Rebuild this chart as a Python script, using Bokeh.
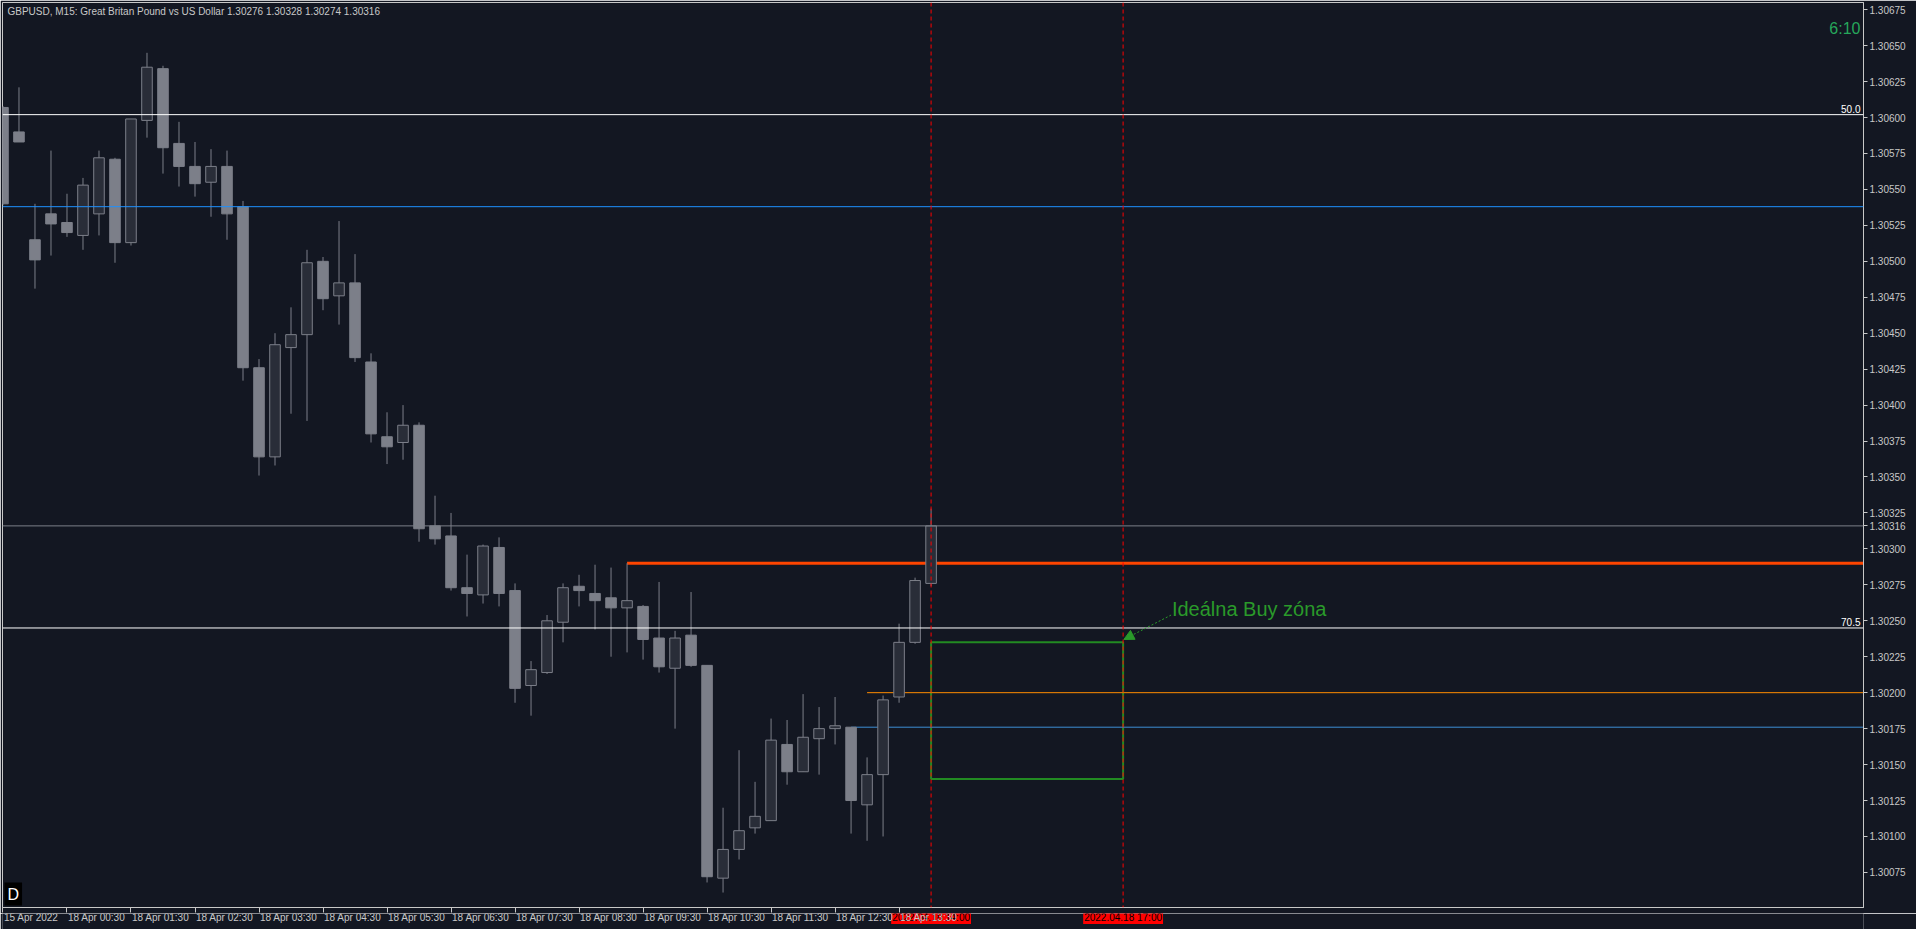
from bokeh.plotting import figure
from bokeh.layouts import column
from bokeh.models import (Range1d, FixedTicker, PrintfTickFormatter, Label, Arrow,
                          NormalHead, Span, ColumnDataSource)
from bokeh.embed import file_html
from bokeh.resources import INLINE

# ---------------- data ----------------
chart_title = "GBPUSD, M15:  Great Britan Pound vs US Dollar  1.30276 1.30328 1.30274 1.30316"

opens = [1.30607, 1.30590, 1.30515, 1.30533, 1.30527, 1.30518, 1.30533, 1.30571, 1.30513, 1.30598,
         1.30634, 1.30582, 1.30566, 1.30555, 1.30566, 1.30538, 1.30426, 1.30364, 1.30440, 1.30449,
         1.30500, 1.30476, 1.30485, 1.30430, 1.30378, 1.30374, 1.30386, 1.30316, 1.30309, 1.30273,
         1.30268, 1.30301, 1.30271, 1.30205, 1.30214, 1.30249, 1.30274, 1.30269, 1.30266, 1.30259,
         1.30260, 1.30238, 1.30217, 1.30240, 1.30219, 1.30071, 1.30091, 1.30106, 1.30111, 1.30164,
         1.30145, 1.30168, 1.30175, 1.30176, 1.30122, 1.30143, 1.30197, 1.30235, 1.30276]
highs = [1.30608, 1.30621, 1.30540, 1.30577, 1.30547, 1.30558, 1.30577, 1.30572, 1.30599, 1.30645,
         1.30636, 1.30597, 1.30583, 1.30578, 1.30577, 1.30542, 1.30432, 1.30450, 1.30468, 1.30508,
         1.30503, 1.30528, 1.30505, 1.30436, 1.30395, 1.30400, 1.30388, 1.30337, 1.30325, 1.30296,
         1.30303, 1.30308, 1.30276, 1.30222, 1.30254, 1.30276, 1.30282, 1.30289, 1.30287, 1.30290,
         1.30261, 1.30277, 1.30243, 1.30270, 1.30219, 1.30120, 1.30160, 1.30138, 1.30182, 1.30181,
         1.30199, 1.30190, 1.30197, 1.30176, 1.30155, 1.30198, 1.30248, 1.30280, 1.30328]
lows = [1.30539, 1.30583, 1.30481, 1.30504, 1.30517, 1.30508, 1.30518, 1.30499, 1.30511, 1.30586,
        1.30561, 1.30552, 1.30545, 1.30531, 1.30515, 1.30417, 1.30351, 1.30358, 1.30394, 1.30389,
        1.30466, 1.30456, 1.30430, 1.30374, 1.30359, 1.30362, 1.30305, 1.30303, 1.30271, 1.30253,
        1.30262, 1.30260, 1.30193, 1.30184, 1.30213, 1.30235, 1.30260, 1.30244, 1.30225, 1.30228,
        1.30223, 1.30214, 1.30175, 1.30218, 1.30068, 1.30061, 1.30084, 1.30102, 1.30111, 1.30136,
        1.30145, 1.30143, 1.30164, 1.30102, 1.30097, 1.30100, 1.30193, 1.30234, 1.30274]
closes = [1.30540, 1.30583, 1.30501, 1.30526, 1.30520, 1.30553, 1.30572, 1.30513, 1.30599, 1.30635,
          1.30579, 1.30566, 1.30554, 1.30566, 1.30533, 1.30426, 1.30364, 1.30442, 1.30449, 1.30499,
          1.30474, 1.30485, 1.30433, 1.30380, 1.30371, 1.30386, 1.30314, 1.30307, 1.30273, 1.30269,
          1.30302, 1.30269, 1.30203, 1.30216, 1.30250, 1.30273, 1.30271, 1.30264, 1.30259, 1.30264,
          1.30237, 1.30218, 1.30238, 1.30219, 1.30072, 1.30091, 1.30104, 1.30114, 1.30167, 1.30145,
          1.30169, 1.30175, 1.30177, 1.30125, 1.30143, 1.30195, 1.30235, 1.30278, 1.30316]

time_tick_bars = [0, 4, 8, 12, 16, 20, 24, 28, 32, 36, 40, 44, 48, 52, 56]
time_tick_labels = ["15 Apr 2022", "18 Apr 00:30", "18 Apr 01:30", "18 Apr 02:30", "18 Apr 03:30",
                    "18 Apr 04:30", "18 Apr 05:30", "18 Apr 06:30", "18 Apr 07:30", "18 Apr 08:30",
                    "18 Apr 09:30", "18 Apr 10:30", "18 Apr 11:30", "18 Apr 12:30", "18 Apr 13:30"]

price_ticks = [1.30075, 1.30100, 1.30125, 1.30150, 1.30175, 1.30200, 1.30225, 1.30250, 1.30275,
               1.30300, 1.30325, 1.30350, 1.30375, 1.30400, 1.30425, 1.30450, 1.30475, 1.30500,
               1.30525, 1.30550, 1.30575, 1.30600, 1.30625, 1.30650, 1.30675]

full_level_prices = [1.30602, 1.30538, 1.30316, 1.30245]
full_level_colors = ["#ffffff", "#1e90ff", "#7c7f89", "#ffffff"]
fib_level_labels = ["50.0", "70.5"]
fib_level_prices = [1.30602, 1.30245]

ray_prices = [1.30290, 1.30200, 1.30176]
ray_start_bars = [39, 54, 53]
ray_colors = ["#ff4500", "#ff8c00", "#3d8fd6"]
ray_widths = [3, 1, 1]

zone_bars = [58, 70]
zone_prices = [1.30140, 1.30235]
zone_text = "Ideálna Buy zóna"

vline_bars = [58, 70]
vline_labels = ["2022.04.18 14:00", "2022.04.18 17:00"]

bid_price = 1.30316
timer_text = "6:10"
period_badge = "D"

# ---------------- styling ----------------
BG = "#131722"
AXIS = "#c8c8c8"
WICK = "#7c7f89"
BULL = "#292d38"
BEAR = "#7c7f89"
GREEN = "#2a9a2a"
FONT = "Liberation Sans"
FRAME_W = 1861

X_START, X_END = -0.03, 116.27
Y_BOTTOM, Y_TOP = 1.300506, 1.306800

xr = Range1d(X_START, X_END)

p = figure(frame_width=FRAME_W, frame_height=905,
           x_range=xr, y_range=Range1d(Y_BOTTOM, Y_TOP),
           y_axis_location="right", output_backend="svg", toolbar_location=None,
           background_fill_color=BG, border_fill_color=BG,
           min_border_left=2, min_border_top=2, min_border_right=53, min_border_bottom=6)
p.xgrid.visible = False
p.ygrid.visible = False
p.outline_line_color = AXIS
p.outline_line_width = 1

# y axis (price scale) - bid price shown on the scale as well
p.yaxis.ticker = FixedTicker(ticks=price_ticks + [bid_price])
p.yaxis.formatter = PrintfTickFormatter(format="%.5f")
p.yaxis.major_label_text_font = FONT
p.yaxis.major_label_text_font_size = "10px"
p.yaxis.major_label_text_color = AXIS
p.yaxis.axis_line_color = AXIS
p.yaxis.major_tick_line_color = AXIS
p.yaxis.major_tick_in = 0
p.yaxis.major_tick_out = 4
p.yaxis.minor_tick_line_color = None
p.yaxis.major_label_standoff = 2

# x axis: tick marks only; the left-aligned time labels go in the strip below
p.xaxis.ticker = FixedTicker(ticks=time_tick_bars)
p.xaxis.major_label_overrides = {b: "" for b in time_tick_bars}
p.xaxis.major_label_text_font_size = "0px"
p.xaxis.axis_line_color = AXIS
p.xaxis.major_tick_line_color = AXIS
p.xaxis.major_tick_in = 0
p.xaxis.major_tick_out = 5
p.xaxis.minor_tick_line_color = None
p.xaxis.major_label_standoff = 0

# zone rectangle
p.quad(left=zone_bars[0], right=zone_bars[1], bottom=zone_prices[0], top=zone_prices[1],
       fill_alpha=0, line_color="#228b22", line_width=2)

# full-width levels
for price, col in zip(full_level_prices, full_level_colors):
    p.add_layout(Span(location=price, dimension="width", line_color=col, line_width=1))

# rays
for price, start, col, w in zip(ray_prices, ray_start_bars, ray_colors, ray_widths):
    p.segment(x0=[start], y0=[price], x1=[X_END], y1=[price], line_color=col, line_width=w)

# vertical dashed lines
for b in vline_bars:
    p.add_layout(Span(location=b, dimension="height", line_color="#ff0000",
                      line_width=1, line_dash="4 3"))

# candles
bars = list(range(len(opens)))
src = ColumnDataSource(dict(
    x=bars,
    o=opens, h=highs, l=lows, c=closes,
    top=[max(o, c) for o, c in zip(opens, closes)],
    bottom=[min(o, c) for o, c in zip(opens, closes)],
    fill=[BULL if c > o else BEAR for o, c in zip(opens, closes)],
))
p.segment(x0="x", y0="l", x1="x", y1="h", source=src, line_color=WICK, line_width=1)
p.vbar(x="x", width=0.66, top="top", bottom="bottom", source=src,
       fill_color="fill", line_color=WICK, line_width=1)

# fib level labels
for lab, price in zip(fib_level_labels, fib_level_prices):
    p.add_layout(Label(x=X_END, y=price, x_offset=-3, y_offset=2, text=lab,
                       text_align="right", text_baseline="bottom",
                       text_font=FONT, text_font_size="10px", text_color="#ffffff"))

# zone annotation
p.add_layout(Label(x=73.05, y=1.30258, text=zone_text, text_align="left",
                   text_baseline="alphabetic", text_font=FONT, text_font_size="20px",
                   text_color=GREEN))
p.add_layout(Arrow(x_start=73.0, y_start=1.30254, x_end=70.05, y_end=1.30237,
                   line_color=GREEN, line_width=1, line_dash="2 2",
                   end=NormalHead(size=10, fill_color=GREEN, line_color=GREEN)))

# title
p.add_layout(Label(x=X_START, y=Y_TOP, x_offset=5, y_offset=-3, text=chart_title,
                   text_align="left", text_baseline="top", text_font=FONT,
                   text_font_size="10px", text_color=AXIS))

# timer
p.add_layout(Label(x=X_END, y=Y_TOP, x_offset=-3, y_offset=-26, text=timer_text,
                   text_align="right", text_baseline="middle", text_font=FONT,
                   text_font_size="16px", text_color="#26a65b"))

# period badge
p.add_layout(Label(x=X_START, y=Y_BOTTOM, x_offset=2, y_offset=2, text=period_badge,
                   text_align="left", text_baseline="bottom", text_font=FONT,
                   text_font_size="16px", text_color="#ffffff",
                   background_fill_color="#000000", padding=3))

# ---------------- time strip below the chart ----------------
s = figure(frame_width=FRAME_W, frame_height=16, x_range=xr, y_range=Range1d(0, 1),
           output_backend="svg", toolbar_location=None,
           background_fill_color=BG, border_fill_color=BG,
           min_border_left=2, min_border_top=0, min_border_right=53, min_border_bottom=0)
s.axis.visible = False
s.grid.visible = False
s.outline_line_color = None

for b, lab in zip(vline_bars, vline_labels):
    s.add_layout(Label(x=b, y=0.75, text=lab, text_align="center",
                       text_baseline="middle", text_font=FONT, text_font_size="10px",
                       text_color="#000000", background_fill_color="#ff0000", padding=1))

for b, lab in zip(time_tick_bars, time_tick_labels):
    s.add_layout(Label(x=b, y=0.75, x_offset=1, text=lab,
                       text_align="left", text_baseline="middle", text_font=FONT,
                       text_font_size="10px", text_color=AXIS))

layout = column(p, s, spacing=0)
open("out.html", "w").write(file_html(layout, INLINE))
